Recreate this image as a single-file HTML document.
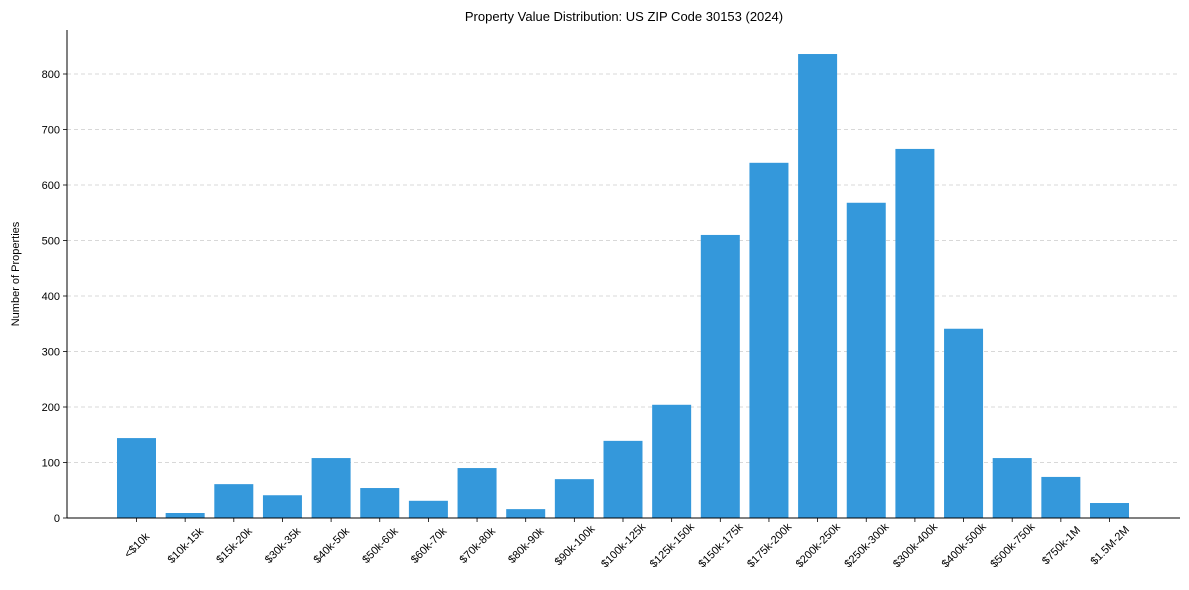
<!DOCTYPE html>
<html><head><meta charset="utf-8">
<style>
body{margin:0;background:#fff;}
svg{display:block;font-family:"Liberation Sans",Arial,sans-serif;}
</style></head>
<body>
<svg id="chart" width="1189" height="590" viewBox="0 0 1189 590">
  <text x="624" y="21" text-anchor="middle" font-size="13" fill="#000">Property Value Distribution: US ZIP Code 30153 (2024)</text>
  <text transform="translate(19,274) rotate(-90)" text-anchor="middle" font-size="11" fill="#000">Number of Properties</text>
  <g id="grid"></g>
  <g id="bars"></g>
  <g id="axes"></g>
</svg>
<script>
const categories=["<$10k","$10k-15k","$15k-20k","$30k-35k","$40k-50k","$50k-60k","$60k-70k","$70k-80k","$80k-90k","$90k-100k","$100k-125k","$125k-150k","$150k-175k","$175k-200k","$200k-250k","$250k-300k","$300k-400k","$400k-500k","$500k-750k","$750k-1M","$1.5M-2M"];
const counts=[144,9,61,41,108,54,31,90,16,70,139,204,510,640,836,568,665,341,108,74,27];
const yTicks=[0,100,200,300,400,500,600,700,800];

const NS="http://www.w3.org/2000/svg";
const L=67,R=1180,T=30,B=518;
const x0=136.5,step=48.65,bw=39;
function xs(i){return x0+i*step;}
function ys(v){return B-v*0.555;}
function mk(tag,attrs,parent){const e=document.createElementNS(NS,tag);for(const k in attrs)e.setAttribute(k,attrs[k]);parent.appendChild(e);return e;}
const grid=document.getElementById('grid'),bars=document.getElementById('bars'),axes=document.getElementById('axes');

yTicks.forEach(t=>{
  const y=ys(t);
  if(t>0){const g=mk('line',{x1:L,x2:R,y1:y,y2:y,stroke:'#ccc','stroke-dasharray':'4,3','stroke-width':0.8},grid);
  
  }
  const tk=mk('line',{x1:L-4,x2:L,y1:y,y2:y,stroke:'#000','stroke-width':0.8},axes);
  
  
  const tx=mk('text',{x:L-7,y:y+4,'text-anchor':'end','font-size':'11',fill:'#000'},axes);
  tx.textContent=t;
  
  
});

categories.forEach((c,i)=>{
  const cx=xs(i),v=counts[i];
  const r=mk('rect',{x:cx-bw/2,y:ys(v),width:bw,height:B-ys(v),fill:'#3498db'},bars);
  
  
  const tk=mk('line',{x1:cx,x2:cx,y1:B,y2:B+4,stroke:'#000','stroke-width':0.8},axes);
  
  
  const tx=mk('text',{x:0,y:4,'text-anchor':'middle','font-size':'11',fill:'#000',transform:'translate('+cx+',545) rotate(-45)'},axes);
  tx.textContent=c;
  
  
});

const ya=mk('line',{x1:L,x2:L,y1:T,y2:B,stroke:'#000','stroke-width':1},axes);


const xa=mk('line',{x1:L,x2:R,y1:B,y2:B,stroke:'#000','stroke-width':1},axes);


</script>
</body></html>
